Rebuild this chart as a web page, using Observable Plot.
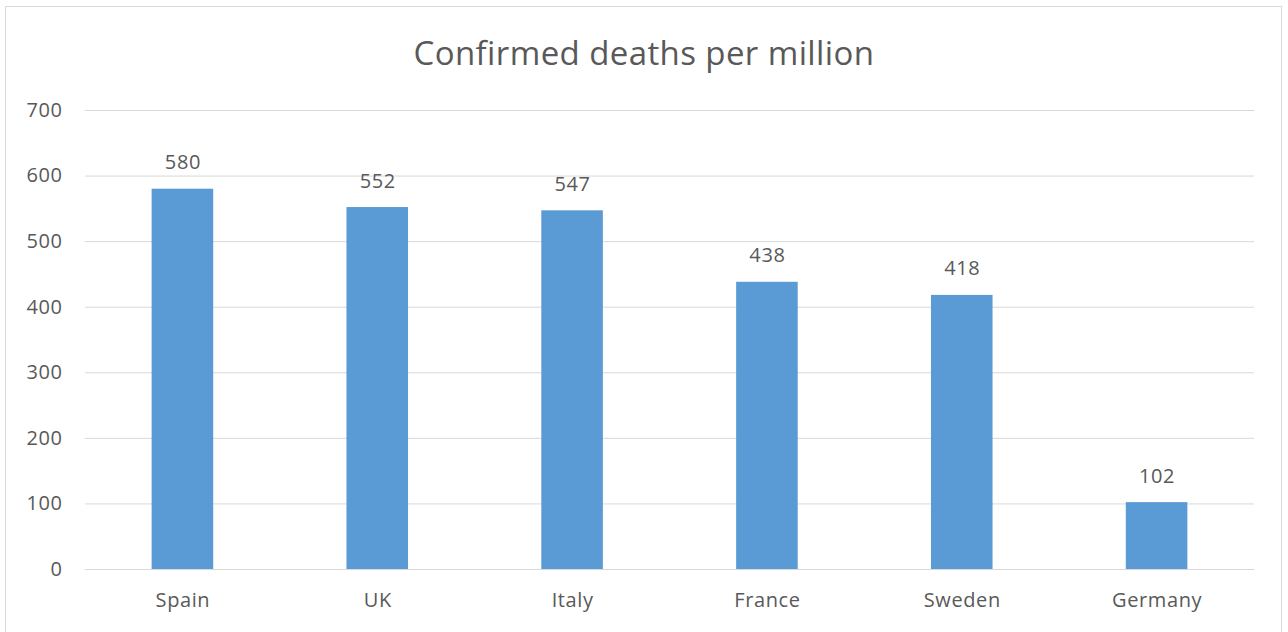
<!DOCTYPE html>
<html>
<head>
<meta charset="utf-8">
<script src="https://cdn.jsdelivr.net/npm/d3@7"></script>
<script src="https://cdn.jsdelivr.net/npm/@observablehq/plot@0.6"></script>
<style>
  html, body { margin: 0; padding: 0; background: #fff; overflow: hidden; }
  #wrap { position: relative; width: 1288px; height: 632px; overflow: hidden; font-family: "Open Sans", sans-serif; }
  #frame { position: absolute; left: 5px; top: 6px; width: 1277px; height: 660px; border: 1px solid #d9d9d9; box-sizing: border-box; }
  #title { position: absolute; left: 0; top: 29px; width: 1288px; text-align: center; font-size: 33px; letter-spacing: 0.4px; color: #595959; line-height: 48px; }
  #chart { position: absolute; left: 0; top: 90px; }
</style>
</head>
<body>
<div id="wrap">
  <div id="frame"></div>
  <div id="title">Confirmed deaths per million</div>
  <div id="chart"></div>
</div>
<script>
const countries = ["Spain", "UK", "Italy", "France", "Sweden", "Germany"];
const deathsPerMillion = [580, 552, 547, 438, 418, 102];
const yTicks = [0, 100, 200, 300, 400, 500, 600, 700];

const rows = countries.map((country, i) => ({country, value: deathsPerMillion[i]}));
const ink = "#595959";

const chart = Plot.plot({
  width: 1288,
  height: 542,
  marginTop: 20,
  marginBottom: 63,
  marginLeft: 85,
  marginRight: 34,
  style: {fontFamily: "Open Sans, sans-serif", fontSize: "20px", letterSpacing: "0.6px", color: ink, background: "transparent"},
  x: {domain: countries, paddingInner: 0.684, paddingOuter: 0.342, round: false, label: null},
  y: {domain: [0, 700], ticks: yTicks, label: null},
  marks: [
    Plot.gridY(yTicks, {stroke: "#d9d9d9", strokeOpacity: 1, strokeWidth: 1}),
    Plot.barY(rows, {x: "country", y: "value", fill: "#5b9bd5"}),
    Plot.axisY(yTicks, {tickSize: 0, tickPadding: 23, fill: ink, fontSize: 20, label: null}),
    Plot.axisX({tickSize: 0, tickPadding: 23, fill: ink, fontSize: 20, label: null}),
    Plot.text(rows, {x: "country", y: "value", text: d => String(d.value), lineAnchor: "bottom", dy: -20, fill: ink, fontSize: 20})
  ]
});
document.getElementById("chart").appendChild(chart);
</script>
</body>
</html>
